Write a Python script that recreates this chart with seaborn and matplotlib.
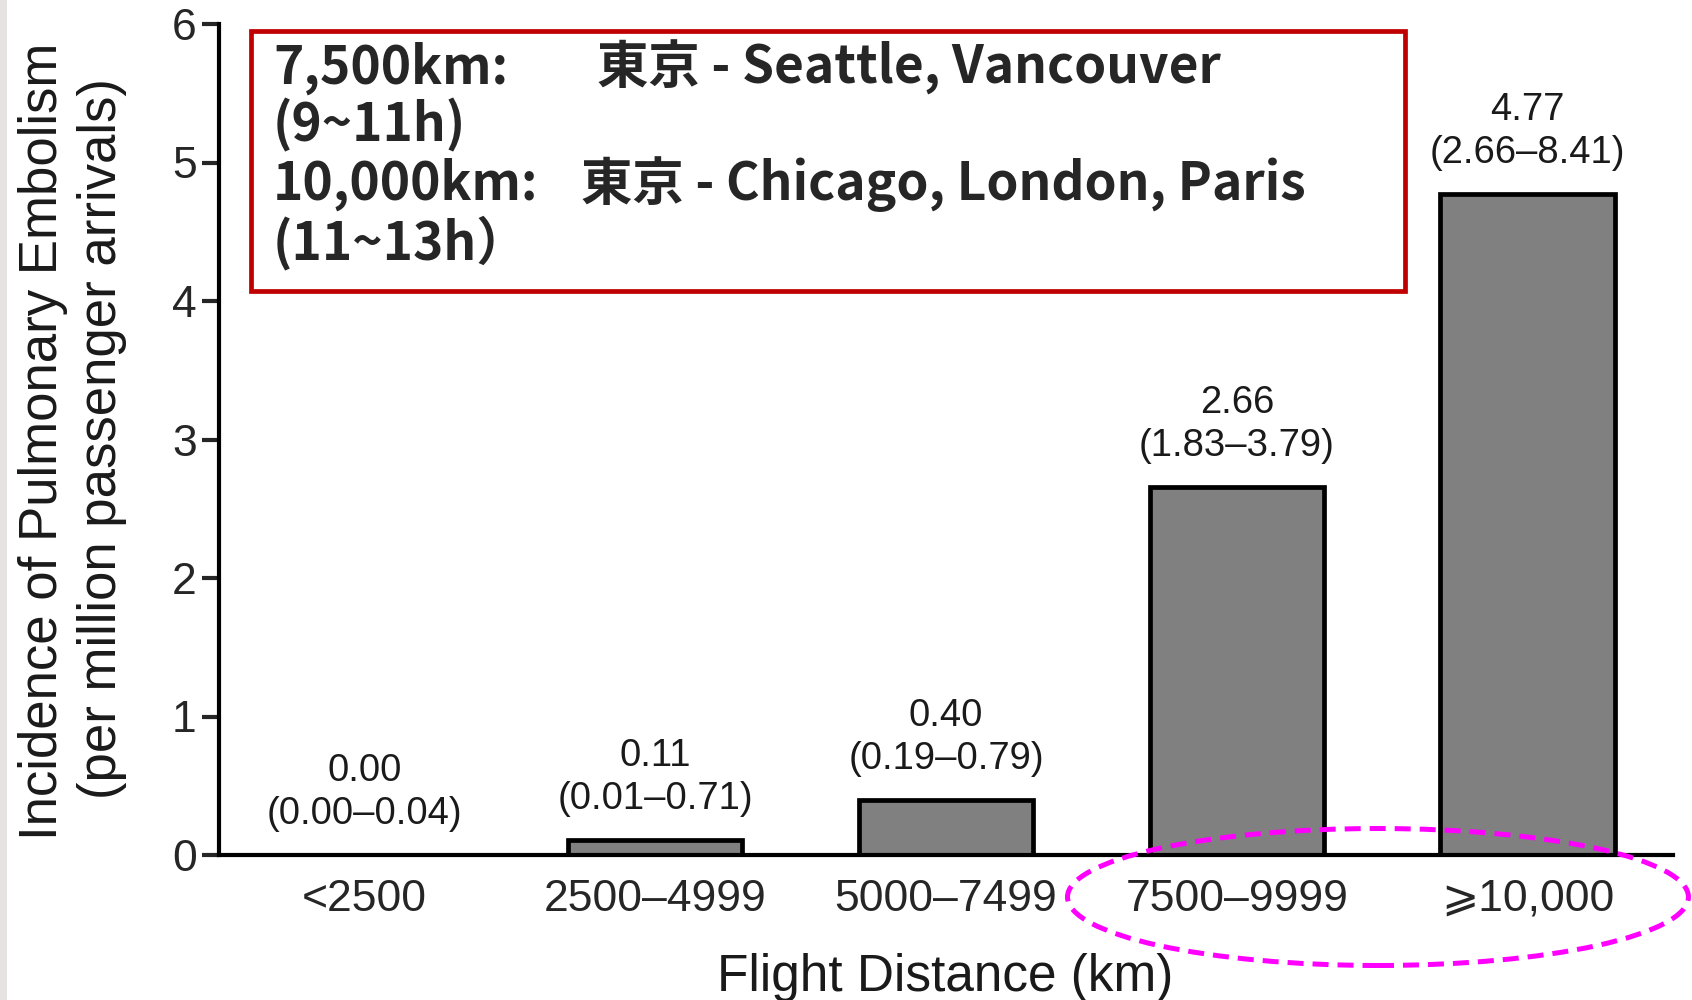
import matplotlib
matplotlib.use("Agg")
import matplotlib.pyplot as plt
from matplotlib.patches import Rectangle, Ellipse
import seaborn as sns
import pandas as pd

# Incidence of pulmonary embolism by flight distance (per million arrivals)
categories = ["<2500", "2500–4999", "5000–7499", "7500–9999", "⩾10,000"]
incidence = [0.00, 0.11, 0.40, 2.66, 4.77]
ci_low = [0.00, 0.01, 0.19, 1.83, 2.66]
ci_high = [0.04, 0.71, 0.79, 3.79, 8.41]

y_ticks = [0, 1, 2, 3, 4, 5, 6]
ylabel_line1 = "Incidence of Pulmonary Embolism"
ylabel_line2 = "(per million passenger arrivals)"
xlabel = "Flight Distance (km)"

note_left = ["7,500km:", "(9~11h)", "10,000km:", "(11~13h）"]
note_right = ["東京 - Seattle, Vancouver", "", "東京 - Chicago, London, Paris", ""]

sns.set_style("ticks")
plt.rcParams["font.family"] = ["Liberation Sans", "DejaVu Sans"]

df = pd.DataFrame({"distance": categories, "incidence": incidence})

fig = plt.figure(figsize=(16.92, 10.0), dpi=100)
ax = fig.add_axes([0.1294, 0.145, 0.8594, 0.831])

sns.barplot(data=df, x="distance", y="incidence", order=categories,
            color="#808080", saturation=1, width=0.6,
            edgecolor="black", linewidth=3.4, ax=ax)

ax.set_ylim(0, 6)
ax.set_yticks(y_ticks)
ax.set_xlim(-0.5, len(categories) - 0.5)
sns.despine(ax=ax)
for side in ("left", "bottom"):
    ax.spines[side].set_linewidth(3.0)
    ax.spines[side].set_color("black")

ax.tick_params(axis="y", length=12, width=3.0, labelsize=32, pad=4)
ax.tick_params(axis="x", length=0, labelsize=32, pad=17)
ax.set_xlabel("")
ax.set_ylabel("")

# value and confidence interval above each bar
for i, (v, lo, hi) in enumerate(zip(incidence, ci_low, ci_high)):
    ax.annotate(f"({lo:.2f}–{hi:.2f})", xy=(i, v), xytext=(0, 29.5),
                textcoords="offset points", ha="center", va="center",
                fontsize=27.5, color="#1a1a1a")
    ax.annotate(f"{v:.2f}", xy=(i, v), xytext=(0, 60.5),
                textcoords="offset points", ha="center", va="center",
                fontsize=27.5, color="#1a1a1a")

# axis titles
fig.text(0.0254, 0.559, ylabel_line1, rotation=90, ha="center", va="center",
         fontsize=38, color="#1a1a1a")
fig.text(0.0603, 0.561, ylabel_line2, rotation=90, ha="center", va="center",
         fontsize=38, color="#1a1a1a")
fig.text(0.5587, 0.023, xlabel, ha="center", va="center",
         fontsize=37, color="#1a1a1a")

# route note box
fig.add_artist(Rectangle((0.1483, 0.709), 0.682, 0.260,
                         transform=fig.transFigure, facecolor="white",
                         edgecolor="#c00000", linewidth=3.4, zorder=5))
baselines = [0.916, 0.859, 0.800, 0.741]
right_x = [0.3528, None, 0.3433, None]
cjk = ["Noto Sans CJK JP", "DejaVu Sans"]
for left, right, yb, rx in zip(note_left, note_right, baselines, right_x):
    fig.text(0.1613, yb, left, ha="left", va="baseline", fontsize=37,
             fontweight="bold", family=cjk, zorder=6)
    if right:
        fig.text(rx, yb, right, ha="left", va="baseline", fontsize=37,
                 fontweight="bold", family=cjk, zorder=6)

# highlight of the long-haul categories
fig.add_artist(Ellipse((0.8144, 0.103), 0.367, 0.137,
                       transform=fig.transFigure, fill=False,
                       edgecolor="#ff00ff", linewidth=3.6,
                       linestyle=(0, (3.2, 1.8)), zorder=6))

# slide edge
fig.add_artist(Rectangle((0, 0), 0.004, 1, transform=fig.transFigure,
                         facecolor="#e6e2e2", edgecolor="none", zorder=7))

fig.savefig("out.png", dpi=100)
